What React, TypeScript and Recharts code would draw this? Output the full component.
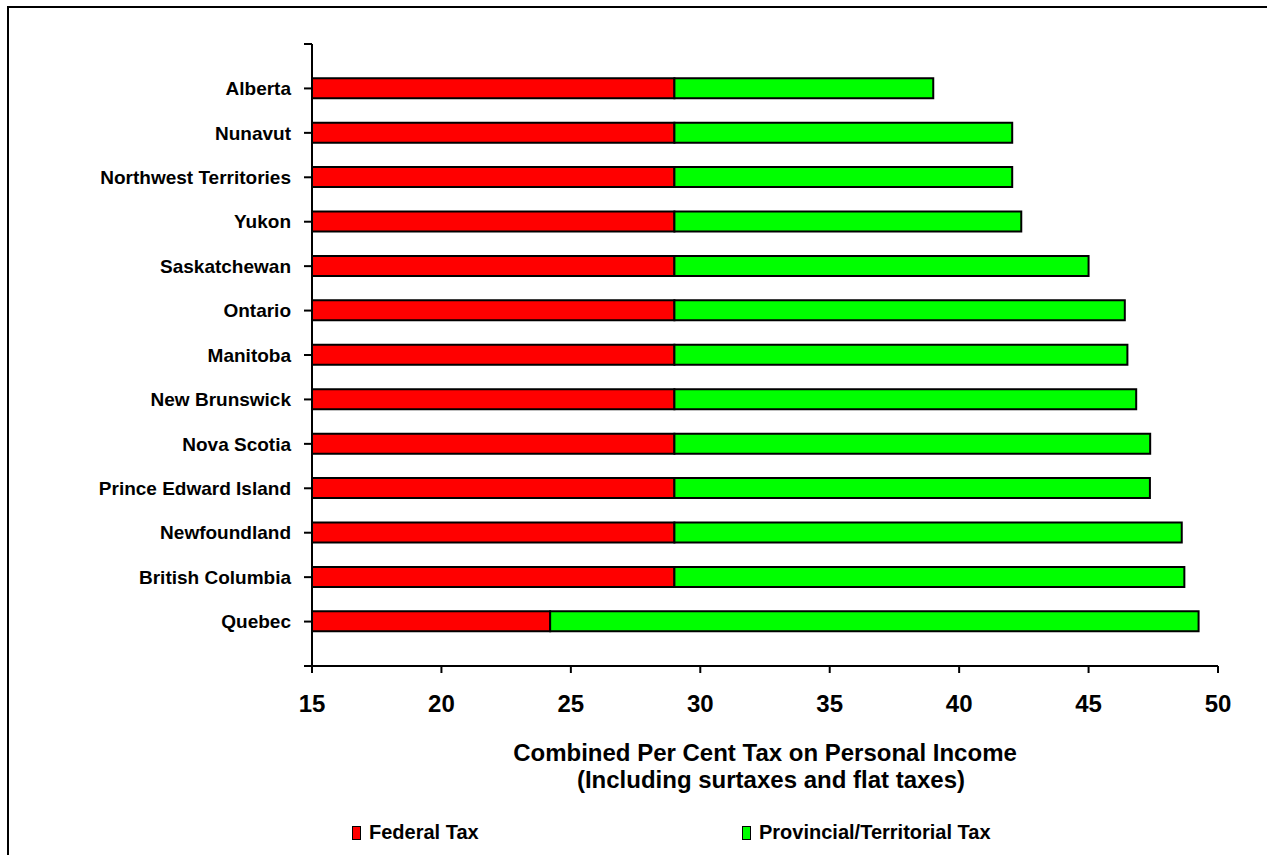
import { BarChart, Bar, XAxis, YAxis, Legend } from "recharts";

const PROVINCES = [
  "Alberta",
  "Nunavut",
  "Northwest Territories",
  "Yukon",
  "Saskatchewan",
  "Ontario",
  "Manitoba",
  "New Brunswick",
  "Nova Scotia",
  "Prince Edward Island",
  "Newfoundland",
  "British Columbia",
  "Quebec",
];

const FEDERAL = [29, 29, 29, 29, 29, 29, 29, 29, 29, 29, 29, 29, 24.2];
const PROVINCIAL = [10.0, 13.05, 13.05, 13.4, 16.0, 17.4, 17.5, 17.84, 18.38, 18.37, 19.6, 19.7, 25.05];

const X_TICKS = [15, 20, 25, 30, 35, 40, 45, 50];
const Y_POSITIONS = Array.from({ length: PROVINCES.length + 2 }, (_, i) => i);

const FONT = '"Liberation Sans", Arial, Helvetica, sans-serif';

const data = PROVINCES.map((name, i) => ({
  pos: i + 1,
  name,
  federal: FEDERAL[i],
  provincial: PROVINCIAL[i],
}));

function AxisTitle(props: any) {
  const vb = props.viewBox || {};
  const cx = vb.x + vb.width / 2;
  return (
    <text textAnchor="middle" fontFamily={FONT} fontWeight="bold" fontSize={24} fill="#000">
      <tspan x={cx} y={761}>Combined Per Cent Tax on Personal Income</tspan>
      <tspan x={cx + 6} y={788}>(Including surtaxes and flat taxes)</tspan>
    </text>
  );
}

function LegendBox() {
  const item = (left: number, color: string, label: string) => (
    <div style={{ position: "absolute", left, top: 0, display: "flex", alignItems: "center" }}>
      <span style={{ display: "inline-block", width: 7, height: 12, background: color, border: "1.5px solid #000", marginRight: 8 }} />
      <span style={{ fontFamily: FONT, fontWeight: "bold", fontSize: 20, color: "#000", whiteSpace: "nowrap" }}>{label}</span>
    </div>
  );
  return (
    <div style={{ position: "relative", height: 24 }}>
      {item(352, "#FF0000", "Federal Tax")}
      {item(742, "#00FF00", "Provincial/Territorial Tax")}
    </div>
  );
}

export default function App() {
  return (
    <div style={{ position: "absolute", left: 0, top: 0, width: 1267, height: 855, background: "#fff", overflow: "hidden" }}>
      <div style={{ position: "absolute", left: 7, top: 6, width: 1300, height: 900, borderTop: "2px solid #000", borderLeft: "2px solid #000" }} />
      <div style={{ position: "absolute", left: 0, top: 0 }}>
        <BarChart
          width={1267}
          height={855}
          data={data}
          layout="vertical"
          margin={{ top: 44, right: 49, left: 0, bottom: 128 }}
        >
          <XAxis
            type="number"
            domain={[15, 50]}
            ticks={X_TICKS}
            allowDataOverflow
            axisLine={{ stroke: "#000", strokeWidth: 2 }}
            tickLine={{ stroke: "#000", strokeWidth: 2 }}
            tickSize={7}
            tickMargin={22}
            height={61}
            tick={{ fontFamily: FONT, fontWeight: "bold", fontSize: 24, fill: "#000" }}
            label={{ content: <AxisTitle /> }}
          />
          <YAxis
            type="number"
            dataKey="pos"
            domain={[0, PROVINCES.length + 1]}
            ticks={Y_POSITIONS}
            interval={0}
            width={312}
            axisLine={{ stroke: "#000", strokeWidth: 2 }}
            tickLine={{ stroke: "#000", strokeWidth: 2 }}
            tickSize={8}
            tickMargin={13}
            tickFormatter={(v: number) => PROVINCES[v - 1] ?? ""}
            tick={{ fontFamily: FONT, fontWeight: "bold", fontSize: 19, fill: "#000" }}
          />
          <Legend
            verticalAlign="middle"
            align="center"
            wrapperStyle={{ position: "absolute", left: 0, top: 821, width: 1267 }}
            content={<LegendBox />}
          />
          <Bar dataKey="federal" name="Federal Tax" stackId="t" fill="#FF0000" stroke="#000" strokeWidth={2} barSize={20} isAnimationActive={false} />
          <Bar dataKey="provincial" name="Provincial/Territorial Tax" stackId="t" fill="#00FF00" stroke="#000" strokeWidth={2} barSize={20} isAnimationActive={false} />
        </BarChart>
      </div>
    </div>
  );
}
